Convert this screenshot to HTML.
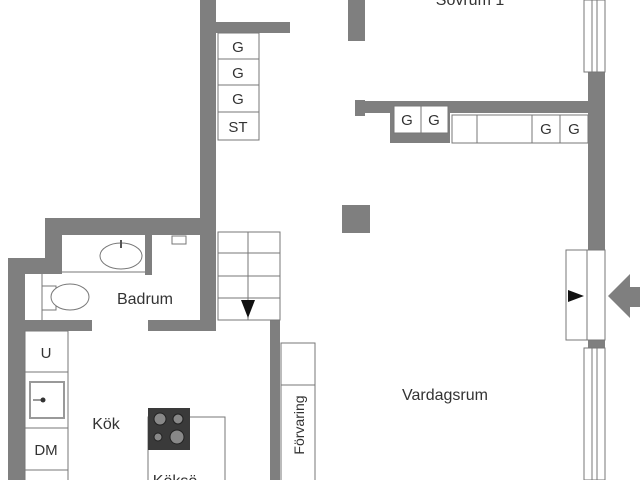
<!DOCTYPE html>
<html><head><meta charset="utf-8"><style>
html,body{margin:0;padding:0;background:#fff;width:640px;height:480px;overflow:hidden}
text{font-family:"Liberation Sans",sans-serif;fill:#333}
</style></head><body>
<svg width="640" height="480" viewBox="0 0 640 480" xmlns="http://www.w3.org/2000/svg">
<g fill="#7f7f7f">
<!-- left upper wall -->
<rect x="200" y="0" width="16" height="331"/>
<rect x="216" y="22" width="74" height="11"/>
<rect x="45" y="218" width="171" height="17"/>
<rect x="45" y="218" width="17" height="56"/>
<rect x="8" y="258" width="54" height="16"/>
<rect x="8" y="258" width="17" height="222"/>
<rect x="145" y="235" width="7" height="40"/>
<rect x="25" y="320" width="67" height="11"/>
<rect x="148" y="320" width="68" height="11"/>
<rect x="270" y="320" width="10" height="160"/>
<!-- sovrum -->
<rect x="348" y="0" width="17" height="41"/>
<rect x="348" y="22" width="10" height="10"/>
<rect x="355" y="101" width="250" height="12"/>
<rect x="355" y="100" width="10" height="16"/>
<rect x="390" y="113" width="60" height="30"/>
<rect x="588" y="72" width="17" height="178"/>
<rect x="588" y="340" width="17" height="8"/>
<rect x="342" y="205" width="28" height="28"/>
<polygon points="608,296 630,274 630,287 640,287 640,307 630,307 630,318"/>
</g>
<g fill="#fff" stroke="#777" stroke-width="1">
<rect x="218" y="33" width="41" height="26"/><rect x="218" y="59" width="41" height="26"/>
<rect x="218" y="85" width="41" height="27"/><rect x="218" y="112" width="41" height="28"/>
<rect x="394" y="106" width="27" height="27"/><rect x="421" y="106" width="27" height="27"/>
<rect x="452" y="115" width="25" height="28"/><rect x="477" y="115" width="55" height="28"/>
<rect x="532" y="115" width="28" height="28"/><rect x="560" y="115" width="28" height="28"/>
<!-- windows -->
<rect x="584" y="0" width="21" height="72"/><line x1="592" y1="0" x2="592" y2="72"/><line x1="597" y1="0" x2="597" y2="72"/>
<rect x="584" y="348" width="21" height="132"/><line x1="592" y1="348" x2="592" y2="480"/><line x1="597" y1="348" x2="597" y2="480"/>
<!-- door -->
<rect x="566" y="250" width="39" height="90"/><line x1="587" y1="250" x2="587" y2="340"/>
<!-- stairs -->
<rect x="218" y="232" width="62" height="88"/><line x1="248" y1="232" x2="248" y2="320"/>
<line x1="218" y1="253" x2="280" y2="253"/><line x1="218" y1="276" x2="280" y2="276"/><line x1="218" y1="298" x2="280" y2="298"/>
<!-- bathroom -->
<line x1="62" y1="272" x2="145" y2="272"/>
<line x1="42" y1="274" x2="42" y2="320"/>
<ellipse cx="121" cy="256" rx="21" ry="13"/>
<rect x="42" y="286" width="14" height="24"/>
<ellipse cx="70" cy="297" rx="19" ry="13"/>
<!-- kitchen -->
<rect x="25" y="331" width="43" height="41"/><rect x="25" y="372" width="43" height="56"/>
<rect x="25" y="428" width="43" height="42"/><rect x="25" y="470" width="43" height="20"/>
<rect x="30" y="382" width="34" height="36" stroke-width="2" stroke="#999"/>
<rect x="148" y="417" width="77" height="70"/>
<rect x="281" y="343" width="34" height="150"/><line x1="281" y1="385" x2="315" y2="385"/>
</g>
<circle cx="43" cy="400" r="2.5" fill="#333"/><line x1="33" y1="400" x2="43" y2="400" stroke="#333"/>
<line x1="121" y1="240" x2="121" y2="248" stroke="#555" stroke-width="2"/>
<rect x="172" y="236" width="14" height="8" fill="none" stroke="#777"/>
<rect x="148" y="408" width="42" height="42" fill="#3a3a3a"/>
<g fill="#888" stroke="#222"><circle cx="160" cy="419" r="6"/><circle cx="178" cy="419" r="5"/><circle cx="158" cy="437" r="4"/><circle cx="177" cy="437" r="7"/></g>
<polygon points="241,300 255,300 248,318" fill="#111"/>
<polygon points="568,290 568,302 584,296" fill="#111"/>
<g font-size="15" text-anchor="middle">
<text x="238" y="52">G</text><text x="238" y="78">G</text><text x="238" y="104">G</text><text x="238" y="132">ST</text>
<text x="407" y="125">G</text><text x="434" y="125">G</text><text x="546" y="134">G</text><text x="574" y="134">G</text>
<text x="46" y="358">U</text><text x="46" y="455">DM</text>
<text x="145" y="304" font-size="16">Badrum</text>
<text x="106" y="429" font-size="16">Kök</text>
<text x="445" y="400" font-size="16">Vardagsrum</text>
<text x="470" y="5" font-size="16">Sovrum 1</text>
<text x="175" y="486" font-size="16">Köksö</text>
<text x="304" y="425" font-size="14" transform="rotate(-90 304 425)">Förvaring</text>
</g>
</svg>
</body></html>
